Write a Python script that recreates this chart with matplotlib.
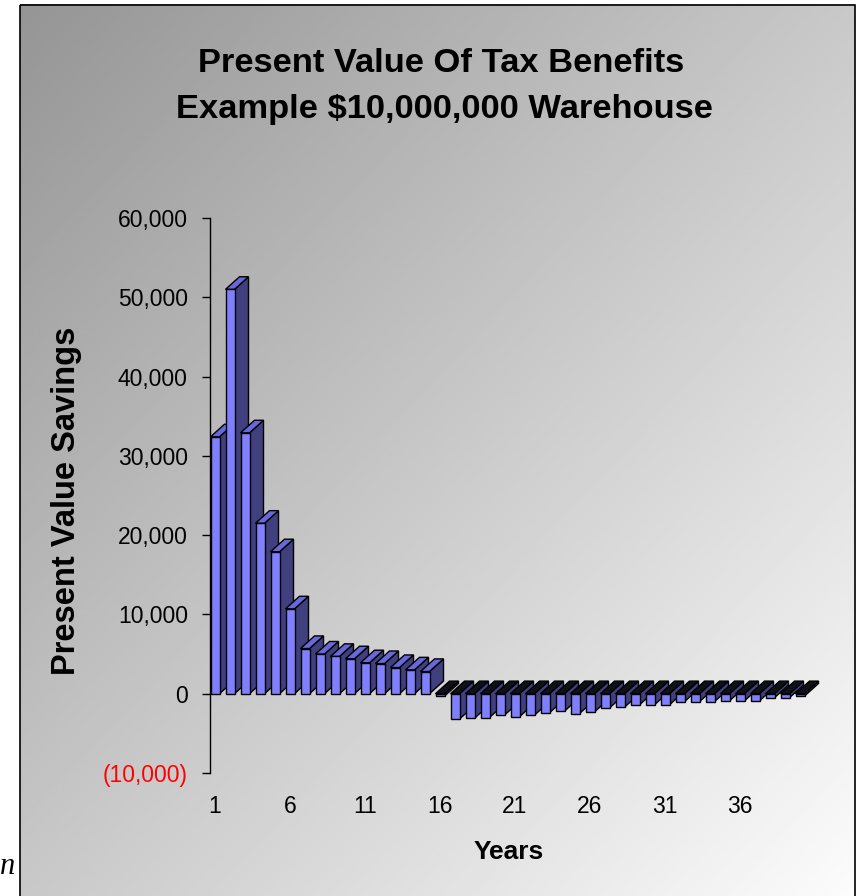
import matplotlib
matplotlib.use("Agg")
import matplotlib.pyplot as plt
import numpy as np
from matplotlib.patches import Polygon, Rectangle

plt.rcParams["font.family"] = ["Liberation Sans", "DejaVu Sans"]

# present value savings per year
years = list(range(1, 41))
savings = [32400, 51000, 32900, 21500, 17900, 10700, 5700, 5000, 4700, 4400,
           3900, 3800, 3300, 3000, 2800, -300, -3200, -3100, -3000, -2700,
           -2900, -2700, -2400, -2200, -2500, -2300, -1800, -1700, -1400, -1400,
           -1400, -1000, -1000, -1000, -900, -900, -900, -500, -500, -300]
year_ticks = [1, 6, 11, 16, 21, 26, 31, 36]
value_ticks = [-10000, 0, 10000, 20000, 30000, 40000, 50000, 60000]

W, H = 858, 896
FRONT = "#8080ff"
SIDE = "#40407f"
TOP_POS = "#6868dc"
TOP_NEG = "#101018"
DEPTH_PX = (14.0, 12.6)  # oblique offset of the bar's back face


def money(v):
    return f"({-v:,.0f})" if v < 0 else f"{v:,.0f}"


fig = plt.figure(figsize=(W / 100, H / 100), dpi=100)

# gradient chart area, dark top-left to near white bottom-right
bg = fig.add_axes([0, 0, 1, 1])
bg.set_axis_off()
bg.set_xlim(0, W)
bg.set_ylim(H, 0)
gx, gy = np.meshgrid(np.linspace(0, 1, 300), np.linspace(0, 1, 300))
t = (gx + gy) / 2
bg.imshow(0x95 + (0xfc - 0x95) * t, cmap="gray", vmin=0, vmax=255,
          extent=(20, 855, 900, 5), aspect="auto", interpolation="bilinear")
bg.add_patch(Rectangle((20, 5), 835, 900, fill=False, ec="black", lw=1.2))
bg.text(0, 874, "n", fontsize=22, family="Liberation Serif", style="italic",
        ha="left", va="baseline")

ax = fig.add_axes([210 / W, (H - 773) / H, 630 / W, (773 - 218) / H])
ax.patch.set_alpha(0)
ax.set_xlim(1 - 5 / 15, 1 - 5 / 15 + 630 / 15)
ax.set_ylim(-10000, 60000)

bars = ax.bar(years, savings, width=0.6, color=FRONT, edgecolor="black",
              linewidth=1.0)

# depth offset in data units
inv = ax.transData.inverted()
p0 = ax.transData.transform((0, 0))
dx, dy = inv.transform(p0 + np.array(DEPTH_PX)) - inv.transform(p0)

for i, (bar, v) in enumerate(zip(bars, savings)):
    x0, w = bar.get_x(), bar.get_width()
    lo, hi = min(v, 0), max(v, 0)
    z = 2 + i * 0.1
    side = [(x0 + w, lo), (x0 + w + dx, lo + dy), (x0 + w + dx, hi + dy), (x0 + w, hi)]
    top = [(x0, hi), (x0 + w, hi), (x0 + w + dx, hi + dy), (x0 + dx, hi + dy)]
    ax.add_patch(Polygon(side, closed=True, fc=SIDE, ec="black", lw=1.0,
                         zorder=z, clip_on=False))
    ax.add_patch(Polygon(top, closed=True, fc=TOP_POS if v > 0 else TOP_NEG,
                         ec="black", lw=1.0, zorder=z + 0.01, clip_on=False))
    bar.set_zorder(z + 0.02)
    bar.set_clip_on(False)

for s in ("top", "right", "bottom"):
    ax.spines[s].set_visible(False)
ax.spines["left"].set_linewidth(1.0)

ax.set_xticks(year_ticks, labels=[str(y) for y in year_ticks])
ax.set_yticks(value_ticks, labels=[money(v) for v in value_ticks])
ax.tick_params(axis="x", length=0, pad=16, labelsize=16.5)
ax.tick_params(axis="y", length=6, width=1.0, pad=10, labelsize=16.5)
for lbl, v in zip(ax.get_yticklabels(), value_ticks):
    if v < 0:
        lbl.set_color("red")

fig.text(441 / W, 1 - 72 / H, "Present Value Of Tax Benefits", ha="center",
         va="baseline", fontsize=24.8, fontweight="bold")
fig.text(444 / W, 1 - 118 / H, "Example $10,000,000 Warehouse", ha="center",
         va="baseline", fontsize=24.8, fontweight="bold")
fig.text(67 / W, 1 - 501 / H, "Present Value Savings", rotation=90,
         ha="center", va="center", fontsize=23.5, fontweight="bold")
fig.text(509 / W, 1 - 859 / H, "Years", ha="center", va="baseline",
         fontsize=19, fontweight="bold")

fig.savefig("out.png", dpi=100)
